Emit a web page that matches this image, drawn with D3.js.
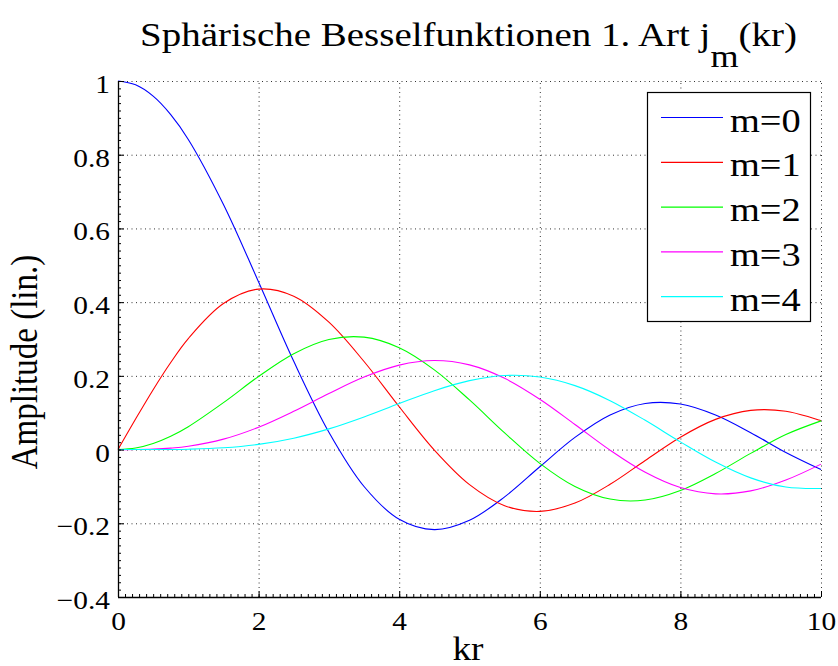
<!DOCTYPE html>
<html>
<head>
<meta charset="utf-8">
<script src="https://cdn.jsdelivr.net/npm/d3@7"></script>
<style>
  html, body { margin: 0; padding: 0; background: #fff; }
  svg text { font-family: "Liberation Serif", "Times New Roman", "DejaVu Serif", serif; fill: #000; }
</style>
</head>
<body>
<svg id="chart" width="838" height="666"></svg>
<script>
// ---- data ----
const kr = [0, 0.25, 0.5, 0.75, 1, 1.5, 2, 2.5, 3, 3.5, 4, 4.5, 5, 5.5, 6, 6.5, 7, 7.5, 8, 8.5, 9, 9.5, 10];
const m0 = [1.0000, 0.9896, 0.9589, 0.9089, 0.8415, 0.6650, 0.4546, 0.2394, 0.0470, -0.1002, -0.1892, -0.2172, -0.1918, -0.1283, -0.0466, 0.0331, 0.0939, 0.1251, 0.1237, 0.0939, 0.0458, -0.0079, -0.0544];
const m1 = [0.0000, 0.0828, 0.1625, 0.2362, 0.3012, 0.3962, 0.4354, 0.4162, 0.3457, 0.2389, 0.1161, -0.0014, -0.0951, -0.1522, -0.1678, -0.1452, -0.0943, -0.0295, 0.0336, 0.0819, 0.1063, 0.1041, 0.0785];
const m2 = [0.0000, 0.0041, 0.0164, 0.0360, 0.0620, 0.1273, 0.1984, 0.2601, 0.2986, 0.3050, 0.2763, 0.2163, 0.1347, 0.0453, -0.0373, -0.1001, -0.1343, -0.1369, -0.1111, -0.0650, -0.0103, 0.0408, 0.0779];
const m3 = [0.0000, 0.0001, 0.0012, 0.0039, 0.0090, 0.0283, 0.0607, 0.1039, 0.1521, 0.1968, 0.2292, 0.2417, 0.2298, 0.1933, 0.1367, 0.0682, -0.0016, -0.0617, -0.1031, -0.1201, -0.1121, -0.0827, -0.0395];
const m4 = [0.0000, 0.0000, 0.0001, 0.0003, 0.0010, 0.0048, 0.0141, 0.0309, 0.0561, 0.0886, 0.1249, 0.1598, 0.1870, 0.2008, 0.1968, 0.1735, 0.1327, 0.0793, 0.0209, -0.0339, -0.0768, -0.1017, -0.1056];
const seriesNames = ["m=0", "m=1", "m=2", "m=3", "m=4"];
const seriesColors = ["#0000ff", "#ff0000", "#00ff00", "#ff00ff", "#00ffff"];
const xTicks = [0, 2, 4, 6, 8, 10];
const yTicks = [-0.4, -0.2, 0, 0.2, 0.4, 0.6, 0.8, 1];
const titleMain = "Sphärische Besselfunktionen 1. Art j";
const titleSub = "m";
const titleEnd = "(kr)";
const xLabel = "kr";
const yLabel = "Amplitude (lin.)";

const seriesValues = [m0, m1, m2, m3, m4];

// ---- layout ----
const L = 118, R = 821, T = 81, B = 597;
const SX = 1.13; // horizontal stretch of the reference's glyphs
const FONT = '"Liberation Serif", "Times New Roman", serif';
const svg = d3.select("#chart");
const x = d3.scaleLinear().domain([0, 10]).range([L, R]);
const y = d3.scaleLinear().domain([-0.4, 1]).range([B, T]);

// grid
const grid = svg.append("g").attr("stroke", "#333").attr("stroke-width", 1)
  .attr("stroke-dasharray", "1,3.5").attr("fill", "none");
xTicks.filter(v => v > 0).forEach(v => {
  grid.append("line").attr("x1", x(v) + 0.5).attr("x2", x(v) + 0.5).attr("y1", B).attr("y2", T);
});
yTicks.filter(v => v > -0.4).forEach(v => {
  grid.append("line").attr("x1", L).attr("x2", R).attr("y1", y(v) + 0.5).attr("y2", y(v) + 0.5);
});

// lines
const line = d3.line().x((d, i) => x(kr[i])).y(d => y(d)).curve(d3.curveCatmullRom.alpha(0.5));
seriesValues.forEach((vals, i) => {
  svg.append("path").datum(vals).attr("d", line)
    .attr("fill", "none").attr("stroke", seriesColors[i]).attr("stroke-width", 1.1);
});

// minor ticks
const xMinor = d3.range(0, 100.5, 1).map(v => v / 10);
const yMinor = d3.range(-20, 50.5, 1).map(v => v / 50);
const axX = svg.append("g").attr("transform", `translate(0,${B})`)
  .call(d3.axisBottom(x).tickValues(xMinor).tickSize(-3).tickFormat(""));
axX.select(".domain").remove();
const axY = svg.append("g").attr("transform", `translate(${L},0)`)
  .call(d3.axisLeft(y).tickValues(yMinor).tickSize(-3).tickFormat(""));
axY.select(".domain").remove();

// major axes
const gx = svg.append("g").attr("transform", `translate(0,${B})`)
  .attr("font-family", FONT)
  .call(d3.axisBottom(x).tickValues(xTicks).tickSize(-6).tickFormat(d => d3.format("")(d)));
gx.select(".domain").attr("d", `M${L},0.5H${R}`);
gx.selectAll("text").attr("font-size", 26).attr("y", 0).attr("dy", 0)
  .attr("transform", `translate(0,33) scale(${SX},1)`).attr("fill", "#000");
const gy = svg.append("g").attr("transform", `translate(${L},0)`)
  .attr("font-family", FONT)
  .call(d3.axisLeft(y).tickValues(yTicks).tickSize(-6)
    .tickFormat(d => (d < 0 ? "\u2212" : "") + d3.format("")(Math.abs(d))));
gy.select(".domain").attr("d", `M0.5,${T}V${B}`);
gy.selectAll("text").attr("font-size", 26).attr("x", 0).attr("dy", 0)
  .attr("transform", `translate(-8,11.5) scale(${SX},1)`).attr("fill", "#000");
svg.selectAll(".tick line").attr("stroke", "#000");
svg.selectAll(".domain").attr("stroke", "#000").attr("stroke-width", 1.3);

// title
const title = svg.append("text").attr("transform", `translate(${(L + R) / 2 - 1},46) scale(${SX},1)`)
  .attr("text-anchor", "middle").attr("font-size", 34.5);
title.append("tspan").text(titleMain);
title.append("tspan").attr("dy", 21).attr("font-size", 32).text(titleSub);
title.append("tspan").attr("dy", -21).text(titleEnd);

// axis labels
svg.append("text").attr("transform", `translate(468,660) scale(${SX},1)`)
  .attr("text-anchor", "middle").attr("font-size", 33).text(xLabel);
svg.append("text").attr("transform", `translate(37,362) scale(${SX},1) rotate(-90)`)
  .attr("text-anchor", "middle").attr("font-size", 33).text(yLabel);

// legend
const lg = svg.append("g");
lg.append("rect").attr("x", 647.5).attr("y", 92.5).attr("width", 163).attr("height", 229)
  .attr("fill", "#fff").attr("stroke", "#000").attr("stroke-width", 1.2);
seriesNames.forEach((name, i) => {
  const cy = 117.5 + i * 44.8;
  lg.append("line").attr("x1", 661).attr("x2", 723).attr("y1", cy).attr("y2", cy)
    .attr("stroke", seriesColors[i]).attr("stroke-width", 1.2);
  lg.append("text").attr("transform", `translate(730,${cy + 14}) scale(${SX},1)`)
    .attr("font-size", 34).text(name);
});
</script>
</body>
</html>
